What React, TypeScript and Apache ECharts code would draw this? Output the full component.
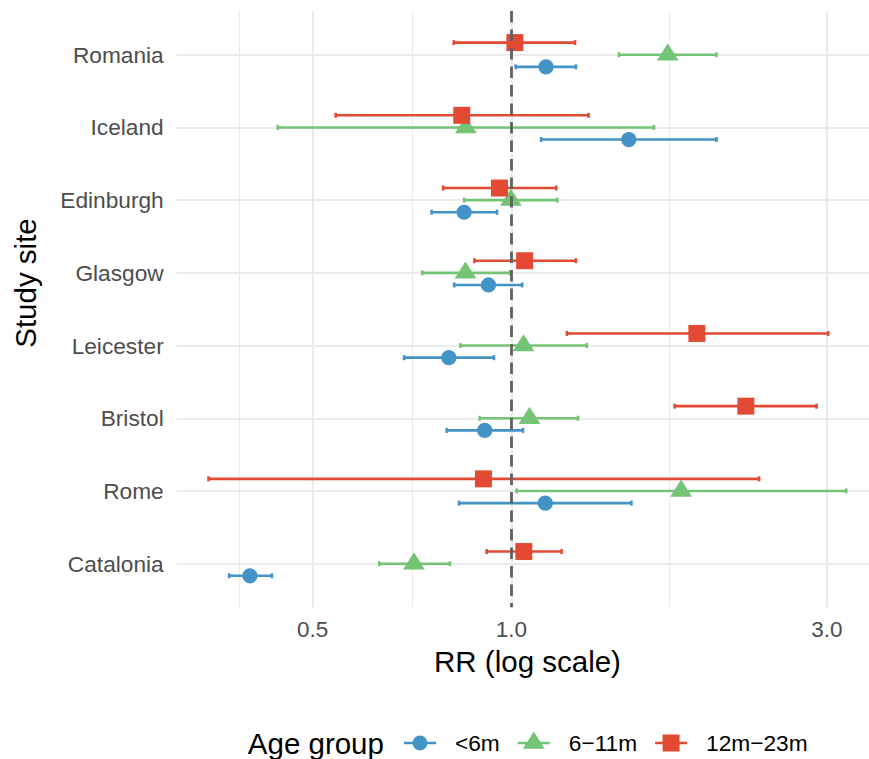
import React, { useEffect, useRef } from "react";
import * as echarts from "echarts";

// ---- data ----
const SITES = ["Romania", "Iceland", "Edinburgh", "Glasgow", "Leicester", "Bristol", "Rome", "Catalonia"];
const GROUPS = ["<6m", "6\u221211m", "12m\u221223m"];
const COLORS = ["#4393c6", "#74c476", "#e34a33"];

// <6m
const RR_LT6 = [1.128, 1.505, 0.848, 0.923, 0.804, 0.911, 1.125, 0.402];
const LO_LT6 = [1.015, 1.109, 0.757, 0.819, 0.688, 0.798, 0.833, 0.374];
const HI_LT6 = [1.252, 2.043, 0.951, 1.038, 0.941, 1.041, 1.519, 0.434];
// 6-11m
const RR_6_11 = [1.724, 0.853, 0.998, 0.852, 1.043, 1.065, 1.806, 0.712];
const LO_6_11 = [1.454, 0.443, 0.848, 0.733, 0.837, 0.895, 1.018, 0.631];
const HI_6_11 = [2.043, 1.643, 1.173, 0.995, 1.3, 1.261, 3.21, 0.807];
// 12-23m
const RR_12_23 = [1.012, 0.841, 0.959, 1.047, 1.908, 2.263, 0.907, 1.044];
const LO_12_23 = [0.818, 0.542, 0.788, 0.879, 1.213, 1.766, 0.348, 0.917];
const HI_12_23 = [1.248, 1.308, 1.169, 1.252, 3.016, 2.895, 2.37, 1.191];

const X_BREAKS = [0.5, 1, 3];
const X_LABELS = ["0.5", "1.0", "3.0"];
const X_MINOR = [0.3873, 0.7071, 1.7321];
const REF_RR = 1;
const X_MIN = 0.3115;
const X_MAX = 3.59;

const FONT = "'Liberation Sans', Arial, Helvetica, sans-serif";
const GRID_COLOR = "#ebebeb";
const DODGE = [1 / 6, 0, -1 / 6];
const CAP = 2.5;
const BAR_W = 2.6;

const ICONS = [
  "path://M0 0M32 24M0 10.7L32 10.7L32 13.3L0 13.3ZM8.5 12A7.5 7.5 0 1 1 23.5 12A7.5 7.5 0 1 1 8.5 12Z",
  "path://M0 0M32 24M0 10.7L32 10.7L32 13.3L0 13.3ZM16 0.6L26.9 17.7L5.1 17.7Z",
  "path://M0 0M32 24M0 10.7L32 10.7L32 13.3L0 13.3ZM7.5 3.5L24.5 3.5L24.5 20.5L7.5 20.5Z",
];

const EST = [RR_LT6, RR_6_11, RR_12_23];
const LO = [LO_LT6, LO_6_11, LO_12_23];
const HI = [HI_LT6, HI_6_11, HI_12_23];

function marker(g: number, cx: number, cy: number, color: string) {
  if (g === 0) return { type: "circle", shape: { cx, cy, r: 7.6 }, style: { fill: color } };
  if (g === 1)
    return {
      type: "polygon",
      shape: { points: [[cx, cy - 11.4], [cx + 10.9, cy + 5.7], [cx - 10.9, cy + 5.7]] },
      style: { fill: color },
    };
  return { type: "rect", shape: { x: cx - 8.5, y: cy - 8.5, width: 17, height: 17 }, style: { fill: color } };
}

export default function App() {
  const ref = useRef<HTMLDivElement>(null);
  useEffect(() => {
    if (!ref.current) return;
    const chart = echarts.init(ref.current, null, { renderer: "svg" });
    const sitePos = SITES.map((_, i) => i + 1);

    const errSeries = GROUPS.map((name, g) => ({
      type: "custom",
      name,
      xAxisIndex: 0,
      yAxisIndex: 0,
      z: 2,
      itemStyle: { color: COLORS[g] },
      encode: { x: [0, 1], y: 2 },
      data: SITES.map((_, i) => [LO[g][i], HI[g][i], i + 1]),
      renderItem: (params: any, api: any) => {
        const y = api.value(2) + DODGE[g];
        const a = api.coord([api.value(0), y]);
        const b = api.coord([api.value(1), y]);
        const st = { stroke: COLORS[g], lineWidth: BAR_W };
        return {
          type: "group",
          children: [
            { type: "line", shape: { x1: a[0], y1: a[1], x2: b[0], y2: b[1] }, style: st },
            { type: "line", shape: { x1: a[0], y1: a[1] - CAP, x2: a[0], y2: a[1] + CAP }, style: st },
            { type: "line", shape: { x1: b[0], y1: b[1] - CAP, x2: b[0], y2: b[1] + CAP }, style: st },
          ],
        };
      },
    }));

    const ptSeries = GROUPS.map((name, g) => ({
      type: "custom",
      name,
      xAxisIndex: 0,
      yAxisIndex: 0,
      z: 3,
      itemStyle: { color: COLORS[g] },
      encode: { x: 0, y: 1 },
      data: SITES.map((_, i) => [EST[g][i], i + 1]),
      renderItem: (params: any, api: any) => {
        const p = api.coord([api.value(0), api.value(1) + DODGE[g]]);
        return marker(g, p[0], p[1], COLORS[g]);
      },
      ...(g === 0
        ? {
            markLine: {
              silent: true,
              symbol: ["none", "none"],
              label: { show: false },
              lineStyle: { color: "#606060", width: 2.8, type: [11.5, 7], opacity: 1 },
              emphasis: { disabled: true },
              data: [{ xAxis: REF_RR }],
              z: 6,
            },
          }
        : {}),
    }));

    chart.setOption({
      animation: false,
      grid: { left: 176.7, right: -9.3, top: 11.1, bottom: 151.7, outerBoundsMode: "none", containLabel: false },
      xAxis: [
        {
          type: "log",
          min: X_MIN,
          max: X_MAX,
          position: "bottom",
          axisLine: { show: false },
          axisTick: { show: false, customValues: X_BREAKS },
          axisLabel: {
            customValues: X_BREAKS,
            formatter: (v: number) => X_LABELS[X_BREAKS.findIndex((b) => Math.abs(b - v) < 1e-6)] ?? "",
            color: "#4d4d4d",
            fontSize: 22.5,
            fontFamily: FONT,
            margin: 11,
          },
          splitLine: { show: true, lineStyle: { color: GRID_COLOR, width: 2.2 } },
          name: "RR (log scale)",
          nameLocation: "middle",
          nameGap: 39,
          nameTextStyle: { color: "#000", fontSize: 29.5, fontFamily: FONT },
        },
        {
          type: "log",
          min: X_MIN,
          max: X_MAX,
          position: "top",
          axisLine: { show: false },
          axisTick: { show: false, customValues: X_MINOR },
          axisLabel: { show: false },
          splitLine: { show: true, lineStyle: { color: GRID_COLOR, width: 1.1 } },
        },
      ],
      yAxis: {
        type: "value",
        min: 0.4,
        max: 8.6,
        inverse: true,
        axisLine: { show: false },
        axisTick: { show: false, customValues: sitePos },
        axisLabel: {
          customValues: sitePos,
          formatter: (v: number) => SITES[Math.round(v) - 1] ?? "",
          color: "#4d4d4d",
          fontSize: 22.7,
          fontFamily: FONT,
          margin: 13,
        },
        splitLine: { show: true, lineStyle: { color: GRID_COLOR, width: 2.2 } },
      },
      legend: {
        left: 404,
        top: 731,
        padding: 0,
        orient: "horizontal",
        itemWidth: 32,
        itemHeight: 24,
        itemGap: 18,
        selectedMode: false,
        itemStyle: { borderWidth: 0 },
        textStyle: { color: "#000", fontSize: 22.7, fontFamily: FONT, padding: [0, 0, 0, 14] },
        data: GROUPS.map((name, g) => ({ name, icon: ICONS[g], itemStyle: { color: COLORS[g] } })),
      },
      graphic: [
        {
          type: "text",
          x: 25,
          y: 283,
          rotation: Math.PI / 2,
          style: { text: "Study site", fill: "#000", fontSize: 29.5, fontFamily: FONT, align: "center", verticalAlign: "middle" },
        },
        {
          type: "text",
          x: 247.8,
          y: 743,
          style: { text: "Age group", fill: "#000", fontSize: 29.5, fontFamily: FONT, align: "left", verticalAlign: "middle" },
        },
      ],
      series: [...errSeries, ...ptSeries],
    });
    return () => chart.dispose();
  }, []);
  return <div ref={ref} style={{ position: "absolute", left: 0, top: 0, width: 869, height: 759 }} />;
}
